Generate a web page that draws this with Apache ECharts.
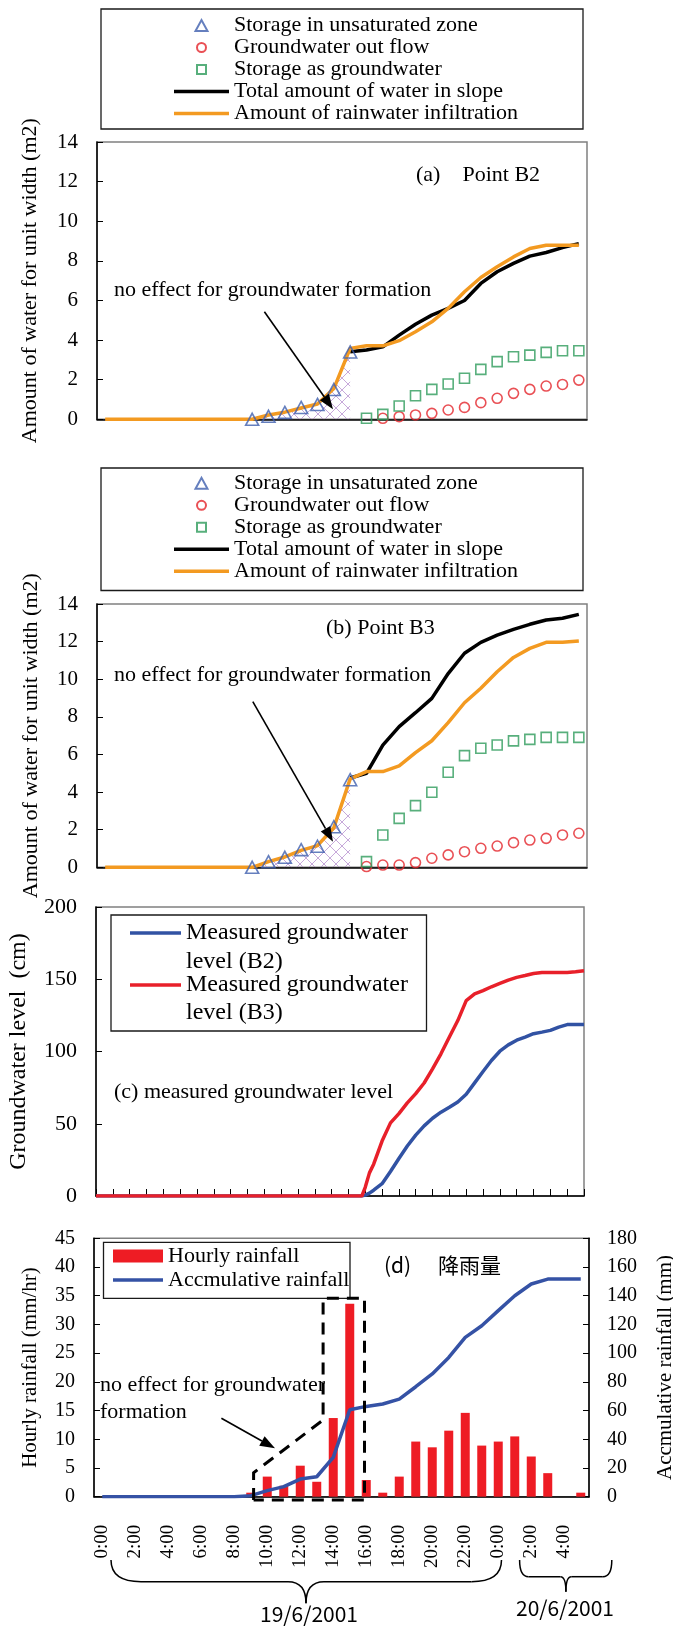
<!DOCTYPE html>
<html>
<head>
<meta charset="utf-8">
<script src="https://cdn.jsdelivr.net/npm/echarts/dist/echarts.min.js"></script>
<style>
  html, body { margin: 0; padding: 0; background: #fff; }
  #chart { width: 673px; height: 1626px; }
</style>
</head>
<body>
<div id="chart"></div>
<script>
// ---- hourly categories: 19/6/2001 0:00 through 20/6/2001 5:00 ----
const hours = ['0:00','1:00','2:00','3:00','4:00','5:00','6:00','7:00','8:00','9:00',
  '10:00','11:00','12:00','13:00','14:00','15:00','16:00','17:00','18:00','19:00',
  '20:00','21:00','22:00','23:00','0:00','1:00','2:00','3:00','4:00','5:00'];
const _ = null;

// ---- (a) Point B2 water balance (m2) ----
const unsatB2   = [_,_,_,_,_,_,_,_,_, 0, 0.15, 0.35, 0.6, 0.75, 1.5, 3.4, _,_,_,_,_,_,_,_,_,_,_,_,_,_];
const outflowB2 = [_,_,_,_,_,_,_,_,_,_,_,_,_,_,_,_,_, 0.05, 0.13, 0.22, 0.3, 0.47, 0.6, 0.84, 1.06, 1.31, 1.51, 1.68, 1.76, 1.98];
const gwB2      = [_,_,_,_,_,_,_,_,_,_,_,_,_,_,_,_, 0.05, 0.25, 0.67, 1.19, 1.51, 1.78, 2.07, 2.52, 2.91, 3.16, 3.24, 3.38, 3.46, 3.46];
const totalB2   = [_,_,_,_,_,_,_,_,_,_,_,_,_,_,_, 3.41, 3.5, 3.66, 4.25, 4.8, 5.26, 5.6, 6.0, 6.86, 7.45, 7.87, 8.24, 8.42, 8.67, 8.87];
const infilB2   = [0,0,0,0,0,0,0,0,0,0, 0.22, 0.36, 0.57, 0.77, 1.55, 3.58, 3.71, 3.71, 3.97, 4.42, 4.92, 5.6, 6.44, 7.16, 7.7, 8.2, 8.62, 8.79, 8.79, 8.79];

// ---- (b) Point B3 water balance (m2) ----
const unsatB3   = [_,_,_,_,_,_,_,_,_, 0, 0.3, 0.53, 0.94, 1.12, 2.16, 4.66, _,_,_,_,_,_,_,_,_,_,_,_,_,_];
const outflowB3 = [_,_,_,_,_,_,_,_,_,_,_,_,_,_,_,_, 0.04, 0.12, 0.12, 0.25, 0.48, 0.66, 0.83, 1.01, 1.13, 1.31, 1.45, 1.54, 1.72, 1.81];
const gwB3      = [_,_,_,_,_,_,_,_,_,_,_,_,_,_,_,_, 0.3, 1.72, 2.6, 3.28, 3.99, 5.05, 5.94, 6.33, 6.5, 6.72, 6.8, 6.91, 6.91, 6.91];
const totalB3   = [_,_,_,_,_,_,_,_,_,_,_,_,_,_,_, 4.75, 5.0, 6.5, 7.48, 8.22, 8.98, 10.3, 11.38, 11.96, 12.35, 12.65, 12.92, 13.15, 13.24, 13.45];
const infilB3   = [0,0,0,0,0,0,0,0,0,0, 0.3, 0.55, 0.9, 1.15, 2.1, 4.7, 5.09, 5.09, 5.39, 6.1, 6.73, 7.69, 8.75, 9.52, 10.4, 11.16, 11.64, 11.96, 11.96, 12.03];

// ---- (c) measured groundwater level (cm), time in hours from 19/6 0:00 ----
const gwTime  = [0, 15.5, 15.8, 16, 16.25, 16.5, 17, 17.5, 18, 18.5, 19, 19.5, 20, 20.5, 21, 21.5, 22, 22.5, 23, 23.5, 24, 24.5, 25, 25.5, 26, 26.5, 27, 27.5, 28, 28.5, 29];
const levelB2 = [0, 0, 0, 0.6, 2, 4, 8.5, 17, 26, 34.6, 42.1, 48.5, 53.8, 58, 61.4, 65.1, 70.4, 78.3, 86.2, 93.8, 100.2, 104.6, 107.8, 110, 112.3, 113.4, 114.6, 116.9, 118.6, 118.6, 118.6];
const levelB3 = [0, 0, 0, 6, 16, 22, 38, 50.6, 57, 64.4, 70.8, 78.2, 88, 98.4, 110, 121.4, 135.2, 139.8, 142.1, 144.8, 147.1, 149.4, 151.3, 152.6, 154, 154.7, 154.7, 154.7, 154.7, 155.2, 155.9];

// ---- (d) rainfall ----
const rainHourly = [0,0,0,0,0,0,0,0,0, 0.7, 3.5, 1.9, 5.4, 2.6, 13.7, 33.6, 2.9, 0.7, 3.5, 9.6, 8.6, 11.5, 14.6, 8.9, 9.6, 10.5, 7.0, 4.1, 0, 0.7];
const rainCum    = [0,0,0,0,0,0,0,0,0, 0.7, 4.2, 7, 12.3, 13.9, 27.4, 60.6, 62.9, 64.6, 68, 76.6, 85.5, 97, 111, 119.1, 129.6, 140, 148.2, 151.6, 151.6, 151.6];

// ---- styling ----
const SERIF = '"Liberation Serif", "Times New Roman", serif';
const CJK = '"Noto Sans CJK JP", "Noto Sans CJK SC", sans-serif';
const C = {
  tri: '#3f5fae', circ: '#e3242b', sq: '#2e9b5b',
  total: '#000000', infil: '#f39a21',
  lvB2: '#3152a3', lvB3: '#e8202a',
  bar: '#ee1c24', cum: '#3552a5'
};
const NAMES = {
  unsat: 'Storage in unsaturated zone',
  out: 'Groundwater out flow',
  gw: 'Storage as groundwater',
  total: 'Total amount of water in slope',
  infil: 'Amount of rainwater infiltration'
};

// legend icons: marker centred in a 55x14 cell (the leading moves fix the cell size)
const ICON = {
  tri:  'path://M0 0M55 14M21.5 12.5L27.5 1.5L33.5 12.5Z',
  circ: 'path://M0 0M55 14M32 7A4.5 4.5 0 1 1 23 7A4.5 4.5 0 1 1 32 7Z',
  sq:   'path://M0 0M55 14M23 2.5H32V11.5H23Z',
  line: 'path://M0 0H55V3.5H0Z'
};

// cross-hatch fill used under the unsaturated-zone storage
function hatchPattern() {
  const c = document.createElement('canvas');
  c.width = 12; c.height = 12;
  const g = c.getContext('2d');
  g.strokeStyle = 'rgba(180,140,205,0.75)';
  g.lineWidth = 1;
  g.beginPath();
  g.moveTo(0, 0); g.lineTo(12, 12);
  g.moveTo(12, 0); g.lineTo(0, 12);
  g.stroke();
  return c;
}
const hatch = { image: hatchPattern(), repeat: 'repeat' };

function catX(gi, showLabels) {
  return {
    type: 'category', gridIndex: gi, data: hours, boundaryGap: true,
    axisLine: { lineStyle: { color: '#000', width: 1.5 } },
    axisTick: { inside: true, length: 7, interval: 0, lineStyle: { color: '#000', width: 1 } },
    axisLabel: showLabels ? {
      interval: 1, rotate: 90, margin: 28, color: '#000',
      fontFamily: SERIF, fontSize: 19
    } : { show: false },
    splitLine: { show: false }
  };
}
function valY(gi, min, max, step, name, gap, nameSize, labelSize, pos) {
  return {
    type: 'value', gridIndex: gi, min: min, max: max, interval: step,
    position: pos || 'left',
    name: name, nameLocation: 'middle', nameGap: gap, nameRotate: 90,
    nameTextStyle: { fontFamily: SERIF, fontSize: nameSize, color: '#000' },
    axisLine: { show: true, lineStyle: { color: '#000', width: 1.5 } },
    axisTick: { show: true, inside: true, length: 6, lineStyle: { color: '#000', width: 1 } },
    axisLabel: { margin: 19, color: '#000', fontFamily: SERIF, fontSize: labelSize },
    splitLine: { show: false }
  };
}
function balanceSeries(gi, unsat, out, gw, total, infil) {
  return [
    { type: 'line', xAxisIndex: gi, yAxisIndex: gi, data: unsat, symbol: 'none',
      lineStyle: { width: 0 }, areaStyle: { color: hatch, opacity: 1 }, silent: true, z: 1 },
    { name: NAMES.total, type: 'line', xAxisIndex: gi, yAxisIndex: gi, data: total, symbol: 'none',
      lineStyle: { color: C.total, width: 3.5 }, itemStyle: { color: C.total }, z: 3 },
    { name: NAMES.infil, type: 'line', xAxisIndex: gi, yAxisIndex: gi, data: infil, symbol: 'none',
      lineStyle: { color: C.infil, width: 3.5 }, itemStyle: { color: C.infil }, z: 4 },
    { name: NAMES.unsat, type: 'scatter', xAxisIndex: gi, yAxisIndex: gi, data: unsat,
      symbol: 'triangle', symbolSize: [13, 12],
      itemStyle: { color: 'rgba(255,255,255,0)', borderColor: C.tri, borderWidth: 1.6 }, z: 5 },
    { name: NAMES.out, type: 'scatter', xAxisIndex: gi, yAxisIndex: gi, data: out,
      symbol: 'circle', symbolSize: 10,
      itemStyle: { color: 'rgba(255,255,255,0)', borderColor: C.circ, borderWidth: 1.6 }, z: 5 },
    { name: NAMES.gw, type: 'scatter', xAxisIndex: gi, yAxisIndex: gi, data: gw,
      symbol: 'rect', symbolSize: 10,
      itemStyle: { color: 'rgba(255,255,255,0)', borderColor: C.sq, borderWidth: 1.6 }, z: 5 }
  ];
}
function balanceLegend(top, lineH) {
  return {
    orient: 'vertical', left: 173, top: top, padding: 0, itemGap: 0,
    itemWidth: 55, itemHeight: 14, selectedMode: false,
    textStyle: { fontFamily: SERIF, fontSize: 22, lineHeight: lineH, color: '#000' },
    data: [
      { name: NAMES.unsat, icon: ICON.tri },
      { name: NAMES.out, icon: ICON.circ },
      { name: NAMES.gw, icon: ICON.sq },
      { name: NAMES.total, icon: ICON.line },
      { name: NAMES.infil, icon: ICON.line }
    ]
  };
}

// ---- annotation helpers (pixel layout) ----
function txt(x, y, text, size, font, align) {
  return { type: 'text', x: x, y: y, silent: true, z: 100,
    style: { text: text, fill: '#000', font: size + 'px ' + (font || SERIF),
      textAlign: align || 'left', textVerticalAlign: 'middle' } };
}
function box(x, y, w, h) {
  return { type: 'rect', silent: true, z: 50, shape: { x: x, y: y, width: w, height: h },
    style: { fill: 'rgba(0,0,0,0)', stroke: '#1a1a1a', lineWidth: 1.3 } };
}
function seg(x1, y1, x2, y2, w, color, dash) {
  return { type: 'line', silent: true, z: 100, shape: { x1: x1, y1: y1, x2: x2, y2: y2 },
    style: { stroke: color || '#000', lineWidth: w || 1.5, lineDash: dash || null } };
}
function arrow(x1, y1, x2, y2) {
  const L = 15, W = 5.5;
  const dx = x2 - x1, dy = y2 - y1, d = Math.hypot(dx, dy);
  const ux = dx / d, uy = dy / d;
  const bx = x2 - ux * L, by = y2 - uy * L;
  return [
    seg(x1, y1, bx, by, 1.6),
    { type: 'polygon', silent: true, z: 100,
      shape: { points: [[x2, y2], [bx - uy * W, by + ux * W], [bx + uy * W, by - ux * W]] },
      style: { fill: '#000' } }
  ];
}
function curve(x1, y1, cx, cy, x2, y2) {
  return { type: 'bezierCurve', silent: true, z: 100,
    shape: { x1: x1, y1: y1, cpx1: cx, cpy1: cy, x2: x2, y2: y2 },
    style: { stroke: '#000', lineWidth: 1.5, fill: 'none' } };
}
function brace(xl, xr, xm, yTop, yMid, yTip, r) {
  return [
    curve(xl, yTop, xl, yMid, xl + r, yMid),
    seg(xl + r, yMid, xm - r * 0.6, yMid, 1.5),
    curve(xm - r * 0.6, yMid, xm, yMid, xm, yTip),
    curve(xm, yTip, xm, yMid, xm + r * 0.6, yMid),
    seg(xm + r * 0.6, yMid, xr - r, yMid, 1.5),
    curve(xr - r, yMid, xr, yMid, xr, yTop)
  ];
}

const graphics = [].concat(
  // legend frames
  [box(101, 9, 482, 120), box(101, 468, 482, 122.5), box(111, 915, 315.5, 116), box(103.5, 1242.3, 246.5, 56)],
  // (c) legend contents
  [
    seg(130, 933, 181, 933, 3.5, C.lvB2), seg(130, 985, 181, 985, 3.5, C.lvB3),
    txt(186, 933, 'Measured groundwater', 24), txt(186, 962, 'level (B2)', 24),
    txt(186, 985, 'Measured groundwater', 24), txt(186, 1013, 'level (B3)', 24)
  ],
  // panel captions
  [
    txt(416, 175, '(a)    Point B2', 22),
    txt(326, 628, '(b) Point B3', 22),
    txt(114, 1092, '(c) measured groundwater level', 22),
    txt(384, 1265, '(d)', 21, CJK),
    txt(438, 1265, '降雨量', 21, CJK)
  ],
  // "no effect" notes and arrows
  [txt(114, 290, 'no effect for groundwater formation', 22)],
  arrow(264.4, 311.7, 333, 409.3),
  [txt(114, 675, 'no effect for groundwater formation', 22)],
  arrow(252.8, 701.7, 333, 841.7),
  [txt(100, 1385, 'no effect for groundwater', 22), txt(100, 1412, 'formation', 22)],
  arrow(221.4, 1418.3, 275, 1448.3),
  [{ type: 'polyline', silent: true, z: 100,
     shape: { points: [[253.6, 1500], [253.6, 1472.7], [323.1, 1420], [323.1, 1298.3], [364.5, 1298.3], [364.5, 1500], [253.6, 1500]] },
     style: { stroke: '#000', lineWidth: 3, lineDash: [12, 8], fill: 'none' } }],
  // date braces under the time axis
  brace(111, 501.5, 306, 1560, 1581.7, 1603.3, 30),
  brace(519.6, 611.8, 565.9, 1560, 1576.7, 1591.7, 9),
  [txt(309, 1614, '19/6/2001', 21, CJK, 'center'), txt(565, 1608, '20/6/2001', 21, CJK, 'center')]
);

const gridBase = { show: true, borderColor: '#808080', borderWidth: 1.5, backgroundColor: 'transparent', containLabel: false, outerBoundsMode: 'none' };

const option = {
  animation: false,
  backgroundColor: '#fff',
  grid: [
    Object.assign({ left: 97, top: 142, width: 490, height: 277.3 }, gridBase),
    Object.assign({ left: 97, top: 604, width: 490, height: 263.3 }, gridBase),
    Object.assign({ left: 96, top: 907, width: 488, height: 289 }, gridBase),
    Object.assign({ left: 94, top: 1238.3, width: 495, height: 258.4 }, gridBase)
  ],
  xAxis: [
    catX(0, false),
    catX(1, false),
    { type: 'value', gridIndex: 2, min: 0, max: 29, interval: 1,
      axisLine: { lineStyle: { color: '#000', width: 1.5 } },
      axisTick: { inside: true, length: 7, lineStyle: { color: '#000', width: 1 } },
      axisLabel: { show: false }, splitLine: { show: false } },
    catX(3, true)
  ],
  yAxis: [
    valY(0, 0, 14, 2, 'Amount of water for unit width (m2)', 56, 22, 21),
    valY(1, 0, 14, 2, 'Amount of water for unit width (m2)', 55, 22, 21),
    valY(2, 0, 200, 50, 'Groundwater level  (cm)', 65, 24, 22),
    valY(3, 0, 45, 5, 'Hourly rainfall (mm/hr)', 53, 21, 20),
    Object.assign(valY(3, 0, 180, 20, 'Accmulative rainfall (mm)', 66, 21, 20, 'right'),
      { axisLabel: { margin: 18, color: '#000', fontFamily: SERIF, fontSize: 20 } })
  ],
  legend: [
    balanceLegend(14.5, 21),
    balanceLegend(472.3, 22),
    { orient: 'vertical', left: 113, top: 1244, padding: 0, itemGap: 0,
      itemWidth: 50, itemHeight: 13, selectedMode: false,
      textStyle: { fontFamily: SERIF, fontSize: 22, lineHeight: 24, color: '#000' },
      data: [
        { name: 'Hourly rainfall', icon: 'rect' },
        { name: 'Accmulative rainfall', icon: 'path://M0 0H50V3.5H0Z' }
      ] }
  ],
  series: [].concat(
    balanceSeries(0, unsatB2, outflowB2, gwB2, totalB2, infilB2),
    balanceSeries(1, unsatB3, outflowB3, gwB3, totalB3, infilB3),
    [
      { name: 'Measured groundwater level (B2)', type: 'line', xAxisIndex: 2, yAxisIndex: 2,
        data: gwTime.map((t, i) => [t, levelB2[i]]), symbol: 'none',
        lineStyle: { color: C.lvB2, width: 3.5 }, itemStyle: { color: C.lvB2 }, z: 3 },
      { name: 'Measured groundwater level (B3)', type: 'line', xAxisIndex: 2, yAxisIndex: 2,
        data: gwTime.map((t, i) => [t, levelB3[i]]), symbol: 'none',
        lineStyle: { color: C.lvB3, width: 3.5 }, itemStyle: { color: C.lvB3 }, z: 4 },
      { name: 'Hourly rainfall', type: 'bar', xAxisIndex: 3, yAxisIndex: 3,
        data: rainHourly, barWidth: 9, itemStyle: { color: C.bar }, z: 2 },
      { name: 'Accmulative rainfall', type: 'line', xAxisIndex: 3, yAxisIndex: 4,
        data: rainCum, symbol: 'none',
        lineStyle: { color: C.cum, width: 3.5 }, itemStyle: { color: C.cum }, z: 3 }
    ]
  ),
  graphic: { elements: graphics }
};

const chart = echarts.init(document.getElementById('chart'), null, { renderer: 'canvas' });
chart.setOption(option);
</script>
</body>
</html>
